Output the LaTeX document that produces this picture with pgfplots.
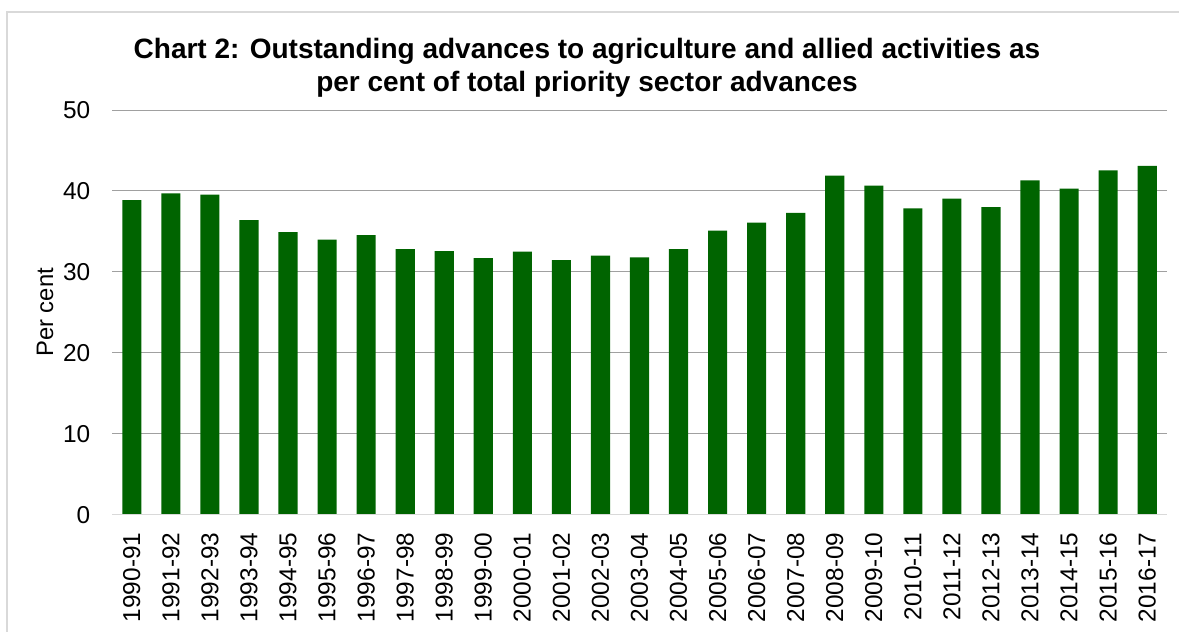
\documentclass[border=0pt]{standalone}
\usepackage{fontspec}
\setmainfont{Liberation Sans}
\usepackage{pgfplots}
\pgfplotsset{compat=1.18}
\definecolor{bargreen}{RGB}{0,100,0}
\definecolor{gridgray}{RGB}{160,160,160}
\definecolor{axisgray}{RGB}{217,217,217}
\begin{document}
\begin{tikzpicture}[x=0.5pt,y=0.5pt]
\path[use as bounding box] (0,0) rectangle (1179,632);
\draw[axisgray, line width=1pt] (7,-20) -- (7,620) -- (1200,620);
\node[font=\fontsize{14}{16}\selectfont\bfseries, anchor=base] at (587,{632-59}) {Chart 2: Outstanding advances to agriculture and allied activities as};
\node[font=\fontsize{14}{16}\selectfont\bfseries, anchor=base] at (587,{632-92}) {per cent of total priority sector advances};
\begin{axis}[
  at={(56.15pt,58.65pt)}, anchor=south west,
  scale only axis,
  width=527.2pt, height=202.35pt,
  xmin=-0.5, xmax=26.5,
  ymin=0, ymax=50,
  ytick={0,10,...,50},
  xtick={0,...,26},
  xticklabels={1990-91,1991-92,1992-93,1993-94,1994-95,1995-96,1996-97,1997-98,1998-99,1999-00,2000-01,2001-02,2002-03,2003-04,2004-05,2005-06,2006-07,2007-08,2008-09,2009-10,2010-11,2011-12,2012-13,2013-14,2014-15,2015-16,2016-17},
  major tick length=0pt,
  ymajorgrids,
  grid style={gridgray, line width=0.5pt},
  axis y line=left,
  axis x line=bottom,
  x axis line style={draw=none},
  y axis line style={draw=none},
  /pgf/number format/assume math mode=true,
  tick label style={font=\fontsize{12.2}{14}\selectfont},
  yticklabel style={inner sep=0pt, anchor=east, xshift=-10.8pt},
  xticklabel style={inner sep=0pt, rotate=90, anchor=east, xshift=-8.8pt},
  ylabel={Per cent},
  ylabel style={font=\fontsize{11.9}{13}\selectfont, at={(axis description cs:0,0.5)}, anchor=base, inner sep=0pt, yshift=29.6pt},
  clip=false,
]
\addplot[ybar, bar width=0.49, fill=bargreen, draw=none] coordinates {
(0,38.85) (1,39.7) (2,39.55) (3,36.4) (4,34.9) (5,34.0) (6,34.55) (7,32.8) (8,32.55) (9,31.7)
(10,32.5) (11,31.45) (12,32.0) (13,31.8) (14,32.8) (15,35.1) (16,36.1) (17,37.3) (18,41.9) (19,40.66)
(20,37.86) (21,39.05) (22,38.0) (23,41.3) (24,40.3) (25,42.55) (26,43.1)
};
\draw[axisgray, line width=0.75pt] (axis cs:-0.5,0) -- (axis cs:26.5,0);
\end{axis}
\end{tikzpicture}
\end{document}
